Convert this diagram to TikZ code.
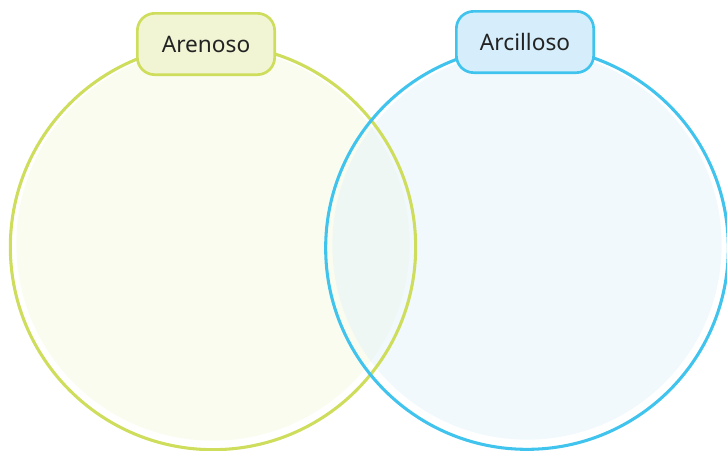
\documentclass[tikz,border=0pt]{standalone}
\usepackage{fontspec}
\setmainfont{Noto Sans}
\usepackage{tikz}
\usetikzlibrary{positioning}
\definecolor{Lime}{HTML}{CEDD5C}
\definecolor{LimeF}{HTML}{F2F7D7}
\definecolor{LimeT}{HTML}{F1F5D4}
\definecolor{Sky}{HTML}{40C4EE}
\definecolor{SkyF}{HTML}{DEF0FA}
\definecolor{SkyT}{HTML}{D6EEFB}
\definecolor{Ink}{HTML}{232323}

\begin{document}
\begin{tikzpicture}[x=0.75pt,y=-0.75pt,
    disc/.style={circle,inner sep=0pt,fill opacity=0.4,minimum size=#1},
    ring/.style={circle,inner sep=0pt,line width=2.3pt,minimum size=#1},
    tag/.style={rounded corners=13pt,line width=2pt,minimum width=103pt,
      minimum height=46pt,text=Ink,font=\fontsize{17}{20}\selectfont}]
  \useasboundingbox (0,0) rectangle (727,450);
  % soft fills, a little inside the outlines
  \node[disc=295pt,fill=LimeF] (Farena) at (213,244) {};
  \node[disc=292pt,fill=SkyF] (Farcilla) at (527,245) {};
  % outlines
  \node[ring=304pt,draw=Lime] (Carena) at (213,247) {};
  \node[ring=302pt,draw=Sky] (Carcilla) at (527,248) {};
  % titles
  \node[tag,draw=Lime,fill=LimeT] (Tarena) at (206,44) {Arenoso};
  \node[tag,draw=Sky,fill=SkyT] (Tarcilla) at (525,42) {Arcilloso};
\end{tikzpicture}
\end{document}
